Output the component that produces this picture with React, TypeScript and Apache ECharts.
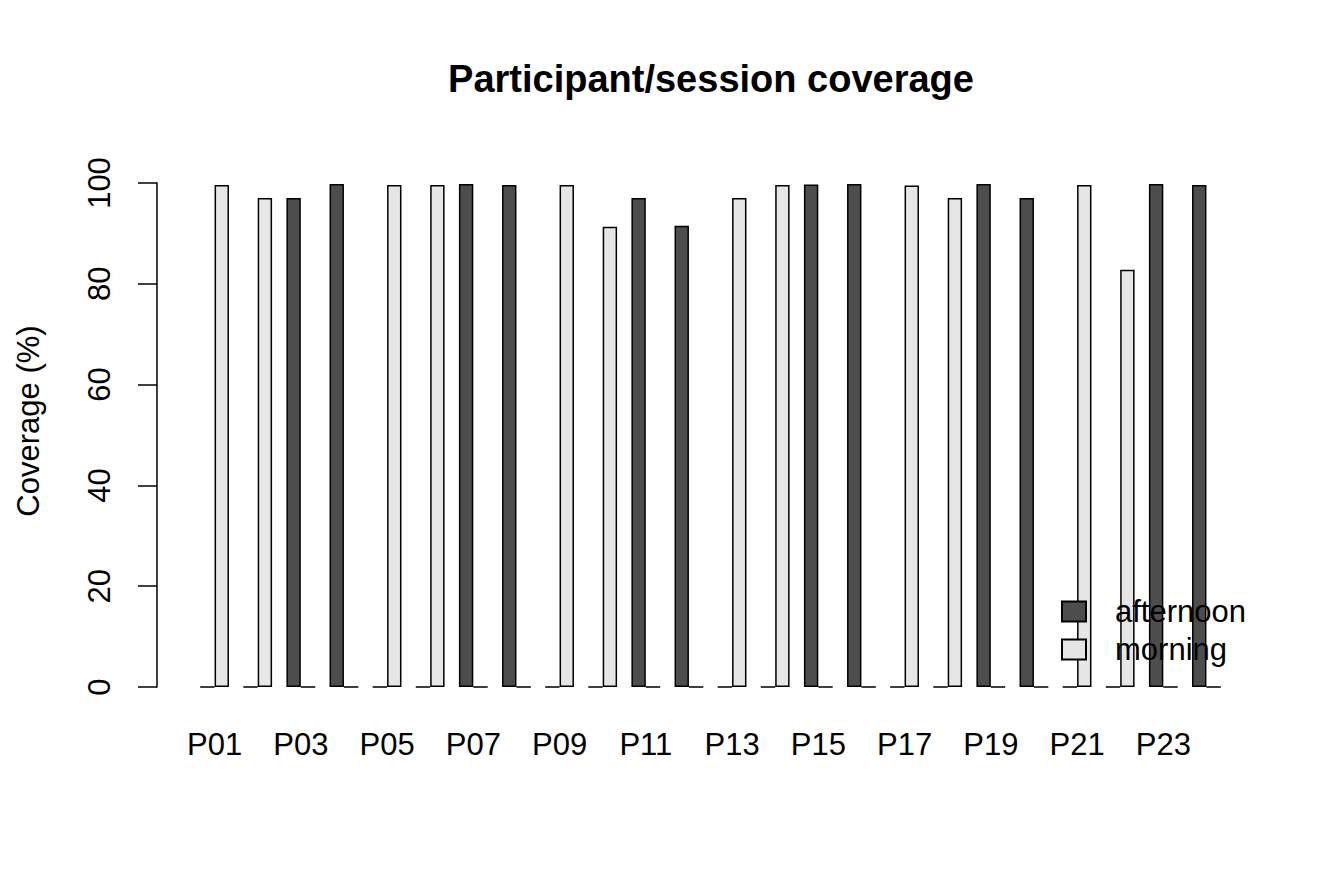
import { useEffect, useRef } from "react";
import * as echarts from "echarts";

const participants = [
    "P01", "P02", "P03", "P04", "P05", "P06", "P07", "P08",
    "P09", "P10", "P11", "P12", "P13", "P14", "P15", "P16",
    "P17", "P18", "P19", "P20", "P21", "P22", "P23", "P24"
];

// coverage (%) per participant, one session type each
const afternoon = [
    0, 0, 97.0, 99.8, 0, 0, 99.8, 99.6,
    0, 0, 97.0, 91.5, 0, 0, 99.7, 99.8,
    0, 0, 99.8, 97.0, 0, 0, 99.8, 99.6
];

const morning = [
    99.6, 97.0, 0, 0, 99.6, 99.6, 0, 0,
    99.6, 91.3, 0, 0, 97.0, 99.6, 0, 0,
    99.5, 97.0, 0, 0, 99.6, 82.8, 0, 0
];

const FONT = "'Liberation Sans', Arial, sans-serif";

function App() {

    const chartRef =
        useRef<HTMLDivElement>(null);

    useEffect(() => {

        if (!chartRef.current)
            return;

        const chart =
            echarts.init(chartRef.current, null, { renderer: "svg" });

        chart.setOption({
            animation: false,
            backgroundColor: "#ffffff",
            textStyle: { fontFamily: FONT },

            grid: {
                left: 193,
                right: 116,
                top: 183,
                bottom: 196
            },

            graphic: [
                {
                    type: "text",
                    x: 711,
                    y: 79,
                    style: {
                        text: "Participant/session coverage",
                        fontFamily: FONT,
                        fontSize: 38,
                        fontWeight: "bold",
                        fill: "#000",
                        align: "center",
                        verticalAlign: "middle"
                    }
                },
                {
                    type: "text",
                    x: 28,
                    y: 421,
                    rotation: Math.PI / 2,
                    style: {
                        text: "Coverage (%)",
                        fontFamily: FONT,
                        fontSize: 31,
                        fill: "#000",
                        align: "center",
                        verticalAlign: "middle"
                    }
                }
            ],

            legend: {
                orient: "vertical",
                left: 1061,
                top: 596,
                padding: 0,
                itemWidth: 24,
                itemHeight: 20,
                itemGap: 7,
                icon: "rect",
                textStyle: {
                    fontFamily: FONT,
                    fontSize: 31,
                    color: "#000",
                    padding: [0, 0, 0, 24]
                },
                data: ["afternoon", "morning"]
            },

            xAxis: {
                type: "category",
                data: participants,
                axisLine: { show: false },
                axisTick: { show: false },
                axisLabel: {
                    interval: 1,
                    fontFamily: FONT,
                    fontSize: 31,
                    color: "#000",
                    margin: 42
                }
            },

            yAxis: {
                type: "value",
                min: 0,
                max: 100,
                interval: 20,
                offset: 36,
                axisLine: {
                    show: true,
                    lineStyle: { color: "#000", width: 1.5 }
                },
                axisTick: {
                    show: true,
                    length: 19,
                    lineStyle: { color: "#000", width: 1.5 }
                },
                axisLabel: {
                    rotate: 90,
                    fontFamily: FONT,
                    fontSize: 31,
                    color: "#000",
                    margin: 42
                },
                splitLine: { show: false }
            },

            series: [
                {
                    name: "afternoon",
                    type: "bar",
                    data: afternoon,
                    barWidth: 14.4,
                    barGap: "0%",
                    itemStyle: {
                        color: "#4d4d4d",
                        borderColor: "#000",
                        borderWidth: 1.5
                    }
                },
                {
                    name: "morning",
                    type: "bar",
                    data: morning,
                    barWidth: 14.4,
                    barGap: "0%",
                    itemStyle: {
                        color: "#e6e6e6",
                        borderColor: "#000",
                        borderWidth: 1.5
                    }
                }
            ]
        });

        return () => {
            chart.dispose();
        };

    }, []);

    return (
        <div
            ref={chartRef}
            style={{
                position: "fixed",
                left: 0,
                top: 0,
                width: "1344px",
                height: "883px",
                background: "#ffffff"
            }}
        />
    );
}

export default App;
